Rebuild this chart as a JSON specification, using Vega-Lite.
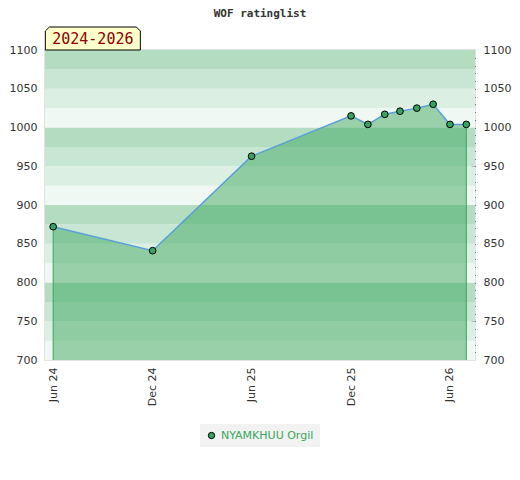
{
  "$schema": "https://vega.github.io/schema/vega-lite/v6.json",
  "width": 430,
  "height": 310,
  "autosize": {"type": "none"},
  "padding": {"left": 45, "top": 50, "right": 45, "bottom": 120},
  "title": {
    "text": "WOF ratinglist",
    "font": "DejaVu Sans Mono",
    "fontSize": 11,
    "fontWeight": "bold",
    "color": "#333",
    "offset": 6
  },
  "datasets": {
    "ratings": [
      {"player": "NYAMKHUU Orgil", "date": "2024-06-01", "rating": 872},
      {"player": "NYAMKHUU Orgil", "date": "2024-12-01", "rating": 841},
      {"player": "NYAMKHUU Orgil", "date": "2025-06-01", "rating": 963},
      {"player": "NYAMKHUU Orgil", "date": "2025-12-01", "rating": 1015},
      {"player": "NYAMKHUU Orgil", "date": "2026-01-01", "rating": 1004},
      {"player": "NYAMKHUU Orgil", "date": "2026-02-01", "rating": 1017},
      {"player": "NYAMKHUU Orgil", "date": "2026-03-01", "rating": 1021},
      {"player": "NYAMKHUU Orgil", "date": "2026-04-01", "rating": 1025},
      {"player": "NYAMKHUU Orgil", "date": "2026-05-01", "rating": 1030},
      {"player": "NYAMKHUU Orgil", "date": "2026-06-01", "rating": 1004},
      {"player": "NYAMKHUU Orgil", "date": "2026-07-01", "rating": 1004}
    ],
    "bands": [
      {"lo": 700, "hi": 725}, {"lo": 725, "hi": 750}, {"lo": 750, "hi": 775}, {"lo": 775, "hi": 800},
      {"lo": 800, "hi": 825}, {"lo": 825, "hi": 850}, {"lo": 850, "hi": 875}, {"lo": 875, "hi": 900},
      {"lo": 900, "hi": 925}, {"lo": 925, "hi": 950}, {"lo": 950, "hi": 975}, {"lo": 975, "hi": 1000},
      {"lo": 1000, "hi": 1025}, {"lo": 1025, "hi": 1050}, {"lo": 1050, "hi": 1075}, {"lo": 1075, "hi": 1100}
    ],
    "tag": [
      {"label": "2024-2026", "date": "2024-08-13", "rating": 1100}
    ]
  },
  "layer": [
    {
      "data": {"name": "bands"},
      "transform": [{"calculate": "datum.lo % 100", "as": "phase"}],
      "mark": {"type": "rect"},
      "encoding": {
        "y": {
          "field": "lo", "type": "quantitative",
          "scale": {"domain": [700, 1100], "nice": false, "zero": false},
          "axis": {"orient": "left", "values": [700, 750, 800, 850, 900, 950, 1000, 1050, 1100], "format": "d", "labelPadding": 8}
        },
        "y2": {"field": "hi"},
        "fill": {
          "field": "phase", "type": "ordinal",
          "scale": {"domain": [75, 50, 25, 0], "range": ["#b3dcc1", "#c7e6d3", "#dcefe3", "#eff8f2"]},
          "legend": null
        }
      }
    },
    {
      "data": {"name": "ratings"},
      "mark": {"type": "area", "color": "#3aa65d", "opacity": 0.48},
      "encoding": {
        "x": {
          "field": "date", "type": "temporal",
          "scale": {"domain": [{"year": 2024, "month": 5, "date": 17}, {"year": 2026, "month": 7, "date": 17}]},
          "axis": {
            "values": [
              {"year": 2024, "month": 6, "date": 1}, {"year": 2024, "month": 12, "date": 1},
              {"year": 2025, "month": 6, "date": 1}, {"year": 2025, "month": 12, "date": 1},
              {"year": 2026, "month": 6, "date": 1}
            ],
            "format": "%b %y", "labelAngle": -90, "labelPadding": 7
          }
        },
        "y": {
          "field": "rating", "type": "quantitative",
          "axis": {"orient": "right", "values": [700, 750, 800, 850, 900, 950, 1000, 1050, 1100], "format": "d", "labelPadding": 8}
        },
        "y2": {"datum": 700}
      }
    },
    {
      "data": {"name": "ratings"},
      "mark": {"type": "line", "color": "#5b9fd8", "strokeWidth": 1.5},
      "encoding": {
        "x": {"field": "date", "type": "temporal", "axis": null},
        "y": {
          "field": "rating", "type": "quantitative",
          "axis": {
            "orient": "right", "labels": false, "ticks": true, "tickSize": -4, "tickColor": "#111", "tickWidth": 1,
            "values": [710, 720, 730, 740, 750, 760, 770, 780, 790, 800, 810, 820, 830, 840, 850, 860, 870, 880, 890, 900, 910, 920, 930, 940, 950, 960, 970, 980, 990, 1000, 1010, 1020, 1030, 1040, 1050, 1060, 1070, 1080, 1090]
          }
        }
      }
    },
    {
      "data": {"name": "ratings"},
      "transform": [
        {"window": [{"op": "row_number", "as": "rn"}], "sort": [{"field": "date"}]},
        {"joinaggregate": [{"op": "count", "as": "n"}]},
        {"filter": "datum.rn == 1 || datum.rn == datum.n"}
      ],
      "mark": {"type": "rule", "color": "#3aa65d", "strokeWidth": 1},
      "encoding": {
        "x": {"field": "date", "type": "temporal", "axis": null},
        "y": {"field": "rating", "type": "quantitative", "axis": null},
        "y2": {"datum": 700}
      }
    },
    {
      "data": {"name": "ratings"},
      "mark": {"type": "point", "filled": true, "size": 45, "stroke": "black", "strokeWidth": 1, "opacity": 1},
      "encoding": {
        "x": {"field": "date", "type": "temporal", "axis": null},
        "y": {"field": "rating", "type": "quantitative", "axis": null},
        "color": {
          "field": "player", "type": "nominal",
          "scale": {"range": ["#3aa163"]},
          "legend": {
            "orient": "bottom", "title": null, "offset": 18,
            "fillColor": "#f2f2f2", "padding": 6,
            "labelColor": "#3aa65d", "labelFont": "DejaVu Sans", "labelFontSize": 11,
            "symbolStrokeColor": "black", "symbolStrokeWidth": 1, "symbolSize": 40
          }
        }
      }
    },
    {
      "data": {"name": "tag"},
      "mark": {
        "type": "point",
        "shape": "M-1,0.242L-1,-0.158L-0.916,-0.242L0.916,-0.242L1,-0.158L1,0.242Z",
        "size": 9025, "filled": true, "fill": "#ffffcc", "stroke": "black", "strokeWidth": 1,
        "opacity": 1, "yOffset": -11.5
      },
      "encoding": {
        "x": {"field": "date", "type": "temporal", "axis": null},
        "y": {"field": "rating", "type": "quantitative", "axis": null}
      }
    },
    {
      "data": {"name": "tag"},
      "mark": {
        "type": "text", "font": "DejaVu Sans Mono", "fontSize": 15, "color": "#8b0000",
        "align": "center", "baseline": "middle", "yOffset": -11
      },
      "encoding": {
        "x": {"field": "date", "type": "temporal", "axis": null},
        "y": {"field": "rating", "type": "quantitative", "axis": null},
        "text": {"field": "label"}
      }
    }
  ],
  "resolve": {"axis": {"x": "independent", "y": "independent"}},
  "config": {
    "view": {"stroke": "#d9d9d9", "strokeWidth": 1.5},
    "axis": {
      "grid": false, "domain": false, "ticks": false, "title": null,
      "labelFont": "DejaVu Sans", "labelFontSize": 11, "labelColor": "#333"
    },
    "legend": {
      "layout": {"bottom": {"anchor": "middle"}}
    }
  }
}
